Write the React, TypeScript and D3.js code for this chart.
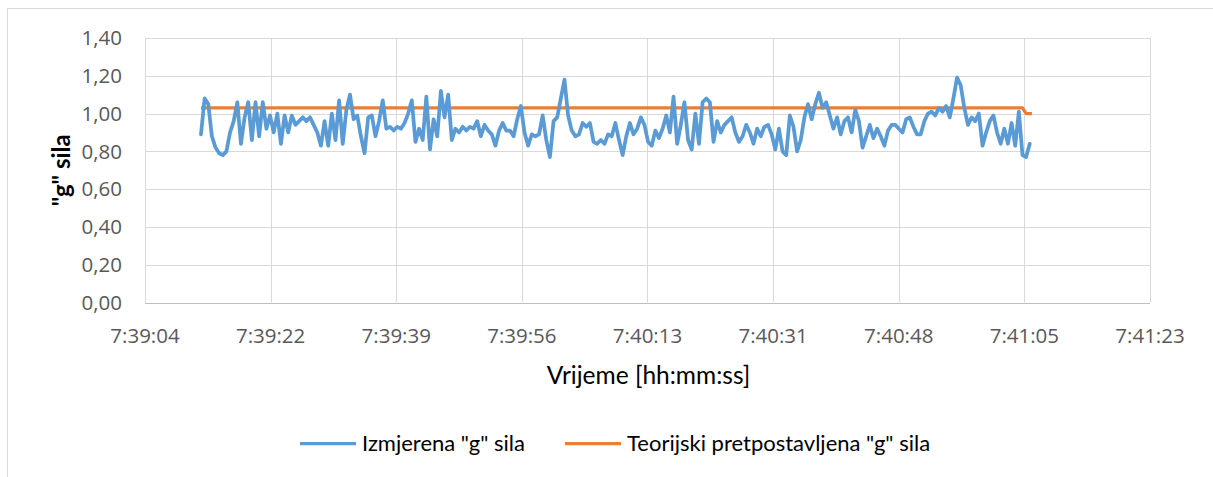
import * as d3 from "d3";
import { useEffect, useRef } from "react";

// vrijeme na osi (sekunde od ponoci) i oznake
const axisStart = 7 * 3600 + 39 * 60 + 4.3;
const axisStep = 17.28;
const tickLabels = ["7:39:04", "7:39:22", "7:39:39", "7:39:56", "7:40:13", "7:40:31", "7:40:48", "7:41:05", "7:41:23"];
const yTicks = [0, 0.2, 0.4, 0.6, 0.8, 1.0, 1.2, 1.4];

// mjerenje: pocetak 7:39:12, uzorak svakih 0.5 s
const sampleStart = 7 * 3600 + 39 * 60 + 12;
const sampleStep = 0.5;
const measured = [
  0.89, 1.08, 1.05, 0.88, 0.82, 0.79, 0.78, 0.80, 0.90, 0.96,
  1.06, 0.84, 0.98, 1.06, 0.86, 1.06, 0.88, 1.06, 0.92, 0.99,
  0.90, 1.00, 0.84, 0.99, 0.90, 0.99, 0.94, 0.96,
  0.98, 0.96, 0.98, 0.94, 0.90, 0.83, 0.96, 0.83, 1.00, 0.86,
  1.07, 0.84, 1.02, 1.10, 0.97, 0.99, 0.88, 0.79, 0.98, 0.99,
  0.88, 0.96, 1.07, 0.92, 0.93, 0.91, 0.93, 0.92,
  0.95, 1.00, 1.07, 0.85, 0.92, 0.86, 1.09, 0.81, 0.97, 0.88,
  1.12, 0.98, 1.10, 0.86, 0.92, 0.90, 0.93, 0.91, 0.93, 0.92,
  0.96, 0.88, 0.94, 0.91, 0.89, 0.83, 0.91, 0.95, 0.91,
  0.91, 0.88, 0.97, 1.04, 0.90, 0.83, 0.89, 0.88, 0.89, 0.99,
  0.86, 0.77, 0.96, 0.98, 1.08, 1.18, 0.99, 0.91, 0.88, 0.89,
  0.95, 0.93, 0.95, 0.85, 0.84, 0.86, 0.84, 0.89, 0.88,
  0.95, 0.86, 0.78, 0.88, 0.95, 0.89, 0.92, 0.98, 0.94, 0.85,
  0.83, 0.91, 0.87, 0.92, 0.99, 0.90, 1.09, 0.84, 0.94, 1.06,
  0.86, 0.81, 1.00, 0.84, 1.06, 1.08, 1.06, 0.85, 0.96,
  0.90, 0.94, 0.96, 0.98, 0.90, 0.85, 0.88, 0.94, 0.90, 0.84,
  0.92, 0.88, 0.93, 0.94, 0.89, 0.81, 0.92, 0.80, 0.78, 0.99,
  0.93, 0.80, 0.86, 0.98, 1.05, 0.97, 1.05, 1.11, 1.03,
  1.06, 0.99, 0.92, 0.98, 0.89, 0.96, 0.98, 0.90, 1.02, 0.96,
  0.82, 0.88, 0.94, 0.87, 0.92, 0.88, 0.83, 0.91, 0.94, 0.94,
  0.92, 0.90, 0.97, 0.98, 0.93, 0.89, 0.89, 0.96, 1.00,
  1.01, 0.99, 1.03, 1.01, 1.04, 0.98, 1.08, 1.19, 1.15, 1.03,
  0.94, 0.98, 0.96, 1.00, 0.83, 0.90, 0.96, 0.99, 0.90, 0.84,
  0.92, 0.84, 0.95, 0.83, 1.01, 0.78, 0.77, 0.84,
];

// teorijska vrijednost (vrijeme, g)
const theoryTimes = [sampleStart, sampleStart + 113, sampleStart + 113.5, sampleStart + 114.3];
const theoryValues = [1.03, 1.03, 1.0, 1.0];

const seriesNames = ['Izmjerena "g" sila', 'Teorijski pretpostavljena "g" sila'];
const colors = ["#5b9bd5", "#ed7d31"];

const App = () => {
  const chartRef = useRef<SVGSVGElement>(null);

  const width = 1213;
  const height = 477;
  const margin = { top: 38, bottom: 174.5, left: 145, right: 63 };
  const boundsWidth = width - margin.left - margin.right;
  const boundsHeight = height - margin.top - margin.bottom;

  useEffect(() => {
    const svg = d3.select(chartRef.current);
    svg.selectAll("*").remove();

    // okvir grafikona
    svg.append("rect")
      .attr("x", 7.5).attr("y", 8.5)
      .attr("width", 1230).attr("height", 500)
      .attr("fill", "white")
      .attr("stroke", "#d9d9d9");

    const scaleX = d3.scaleLinear()
      .domain([axisStart, axisStart + axisStep * 8])
      .range([0, boundsWidth]);
    const scaleY = d3.scaleLinear()
      .domain([0, 1.4])
      .range([boundsHeight, 0]);

    const g = svg.append("g").attr("transform", `translate(${margin.left}, ${margin.top})`);

    const xTickValues = tickLabels.map((_, i) => axisStart + i * axisStep);

    // mreza
    g.selectAll(".hgrid").data(yTicks).enter().append("line")
      .attr("x1", 0).attr("x2", boundsWidth)
      .attr("y1", d => Math.round(scaleY(d)) + 0.5).attr("y2", d => Math.round(scaleY(d)) + 0.5)
      .attr("stroke", d => (d === 0 ? "#bfbfbf" : "#d9d9d9"))
      .attr("stroke-width", 1);
    g.selectAll(".vgrid").data(xTickValues).enter().append("line")
      .attr("x1", d => Math.round(scaleX(d)) + 0.5).attr("x2", d => Math.round(scaleX(d)) + 0.5)
      .attr("y1", 0).attr("y2", boundsHeight)
      .attr("stroke", "#d9d9d9");

    // oznake osi
    g.selectAll(".ylab").data(yTicks).enter().append("text")
      .attr("x", -23).attr("y", d => scaleY(d))
      .attr("dy", "0.35em")
      .attr("text-anchor", "end")
      .style("font-family", "'Open Sans', sans-serif")
      .style("font-size", "20.5px")
      .style("fill", "#595959")
      .text(d => d.toFixed(2).replace(".", ","));

    g.selectAll(".xlab").data(xTickValues).enter().append("text")
      .attr("x", d => scaleX(d)).attr("y", boundsHeight + 33)
      .attr("dy", "0.35em")
      .attr("text-anchor", "middle")
      .style("font-family", "'Open Sans', sans-serif")
      .style("font-size", "20.5px")
      .style("fill", "#595959")
      .text((d, i) => tickLabels[i]);

    // linije
    const line = d3.line<[number, number]>()
      .x(d => scaleX(d[0]))
      .y(d => scaleY(d[1]))
      .curve(d3.curveLinear);

    const measuredPts: [number, number][] = measured.map((v, i) => [sampleStart + i * sampleStep, v]);
    const theoryPts: [number, number][] = theoryValues.map((v, i) => [theoryTimes[i], v]);

    g.append("path").datum(theoryPts)
      .attr("d", line)
      .attr("fill", "none")
      .attr("stroke", colors[1])
      .attr("stroke-width", 3.25)
      .attr("stroke-linejoin", "round");

    g.append("path").datum(measuredPts)
      .attr("d", line)
      .attr("fill", "none")
      .attr("stroke", colors[0])
      .attr("stroke-width", 3.75)
      .attr("stroke-linejoin", "round")
      .attr("stroke-linecap", "round");

    // naslovi osi
    svg.append("text")
      .attr("x", margin.left + boundsWidth / 2 + 1).attr("y", 375)
      .attr("dy", "0.35em")
      .attr("text-anchor", "middle")
      .style("font-family", "Lato, sans-serif")
      .style("font-size", "24.5px")
      .style("fill", "#000")
      .text("Vrijeme [hh:mm:ss]");

    svg.append("text")
      .attr("transform", `translate(62, ${margin.top + boundsHeight / 2}) rotate(-90)`)
      .attr("dy", "0.35em")
      .attr("text-anchor", "middle")
      .style("font-family", "Lato, sans-serif")
      .style("font-size", "24px")
      .style("font-weight", "bold")
      .style("fill", "#000")
      .text('"g" sila');

    // legenda
    const legendX = [300, 565];
    seriesNames.forEach((name, i) => {
      svg.append("line")
        .attr("x1", legendX[i]).attr("x2", legendX[i] + 56)
        .attr("y1", 443.5).attr("y2", 443.5)
        .attr("stroke", colors[i])
        .attr("stroke-width", 3.25);
      svg.append("text")
        .attr("x", legendX[i] + 62).attr("y", 443.5)
        .attr("dy", "0.35em")
        .style("font-family", "Lato, sans-serif")
        .style("font-size", "22px")
        .style("fill", "#000")
        .text(name);
    });
  }, []);

  return (
    <svg ref={chartRef} width={width} height={height}
      style={{ position: "absolute", left: 0, top: 0, background: "white" }}></svg>
  );
};

export default App;
